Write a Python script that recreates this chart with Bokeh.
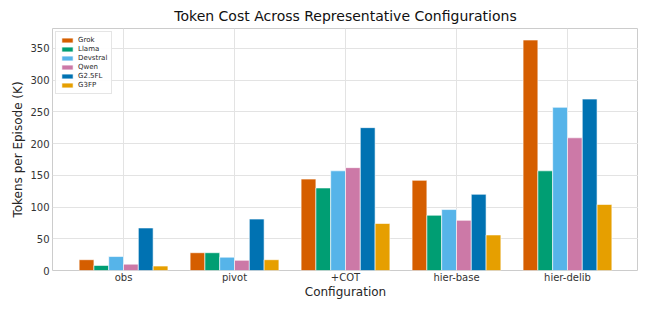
from bokeh.plotting import figure
from bokeh.models import ColumnDataSource, Range1d, Legend, LegendItem, FixedTicker
from bokeh.transform import dodge
from bokeh.embed import file_html
from bokeh.resources import INLINE

configs = ["obs", "pivot", "+COT", "hier-base", "hier-delib"]
models = ["Grok", "Llama", "Devstral", "Qwen", "G2.5FL", "G3FP"]
grok = [17, 28, 144, 142, 363]
llama = [8, 28, 130, 87, 157]
devstral = [22, 21, 157, 96, 257]
qwen = [10, 16, 162, 79, 209]
g25fl = [67, 81, 225, 120, 270]
g3fp = [7, 17, 74, 56, 104]
colors = ["#D55E00", "#009E73", "#56B4E9", "#CC79A7", "#0072B2", "#E69F00"]
yticks = [0, 50, 100, 150, 200, 250, 300, 350]

series = [grok, llama, devstral, qwen, g25fl, g3fp]
idx = list(range(len(configs)))
data = {"x": idx}
for m, s in zip(models, series):
    data[m] = s
src = ColumnDataSource(data)

n = len(models)
bw = 0.8 / n
ymax = max(max(s) for s in series) * 1.05
xpad = 0.4 + 0.05 * (len(configs) - 1 + 0.8)
FONT = "DejaVu Sans"

p = figure(width=638, height=301, output_backend="svg", toolbar_location=None,
           x_range=Range1d(-xpad, len(configs) - 1 + xpad),
           y_range=Range1d(0, ymax),
           title="Token Cost Across Representative Configurations",
           min_border_left=52, min_border_right=0, min_border_top=0, min_border_bottom=0)

items = []
for i, (m, c) in enumerate(zip(models, colors)):
    r = p.vbar(x=dodge("x", (i - (n - 1) / 2) * bw), top=m,
               width=bw, source=src, fill_color=c, line_color="white", line_width=0.6)
    items.append(LegendItem(label=m, renderers=[r]))

legend = Legend(items=items, location="top_left", label_text_font_size="7px",
                label_text_font=FONT, glyph_width=14, glyph_height=6, label_height=8,
                label_standoff=4, spacing=1, padding=4, margin=3,
                border_line_color="#cccccc", border_line_width=1,
                background_fill_alpha=0.9, label_text_color="#262626")
p.add_layout(legend)

p.title.text_font = FONT
p.title.text_font_size = "14px"
p.title.text_font_style = "normal"
p.title.align = "center"
p.title.text_color = "#111111"

p.xaxis.axis_label = "Configuration"
p.yaxis.axis_label = "Tokens per Episode (K)"
for ax in (p.xaxis, p.yaxis):
    ax.axis_label_text_font = FONT
    ax.axis_label_text_font_size = "12px"
    ax.axis_label_text_font_style = "normal"
    ax.axis_label_text_color = "#262626"
    ax.major_label_text_font = FONT
    ax.major_label_text_font_size = "10px"
    ax.major_label_text_color = "#333333"
    ax.axis_line_color = None
    ax.major_tick_line_color = None
    ax.minor_tick_line_color = None
    ax.major_tick_out = 0
    ax.major_tick_in = 0
p.xaxis.axis_label_standoff = -1
p.xaxis.major_label_standoff = 1
p.yaxis.axis_label_standoff = 2
p.yaxis.major_label_standoff = 3

p.xaxis.ticker = FixedTicker(ticks=idx)
p.xaxis.major_label_overrides = {i: c for i, c in zip(idx, configs)}
p.yaxis.ticker = yticks
p.xgrid.ticker = FixedTicker(ticks=idx)
p.xgrid.grid_line_color = "#e3e3e3"
p.ygrid.grid_line_color = "#e3e3e3"
p.xgrid.grid_line_width = 1
p.ygrid.grid_line_width = 1
p.outline_line_color = "#cccccc"
p.outline_line_width = 1

open("out.html", "w").write(file_html(p, INLINE))
